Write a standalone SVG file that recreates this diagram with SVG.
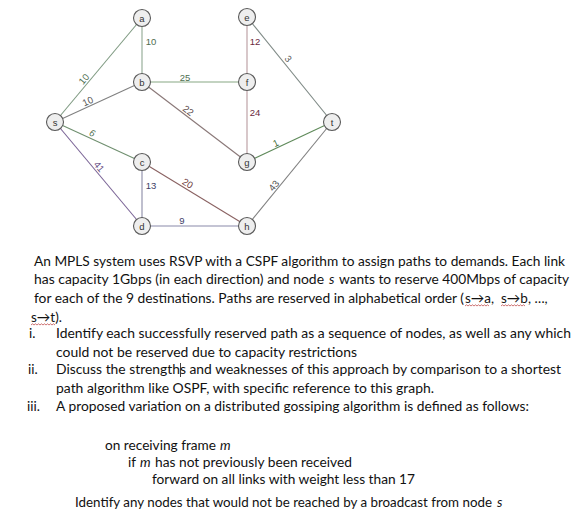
<svg xmlns="http://www.w3.org/2000/svg" width="582" height="521" viewBox="0 0 582 521">
<style>
.nd circle{fill:#eeeeee;stroke:#5a5a5a;stroke-width:1.1}
.nd text{font-family:"Liberation Sans",Arial,sans-serif;font-size:9.5px;fill:#333;text-anchor:middle}
.e{stroke-width:1.1;fill:none}
.lb{font-family:"Liberation Sans",Arial,sans-serif;font-size:9.5px;text-anchor:middle}
.tx{font-family:Lato,"Open Sans",sans-serif;font-size:13.5px;fill:#111}
.it{font-style:italic}
.wv{fill:none;stroke:#c05050;stroke-width:0.8}
</style>
<rect width="582" height="521" fill="#ffffff"/>
<g id="connectors">
<line class="e" x1="55" y1="122" x2="142" y2="18" stroke="#7f9a82"/>
<line class="e" x1="142" y1="18" x2="142" y2="82" stroke="#8fa892"/>
<line class="e" x1="55" y1="122" x2="142" y2="82" stroke="#808080"/>
<line class="e" x1="142" y1="82" x2="247" y2="82" stroke="#88a884"/>
<line class="e" x1="142" y1="82" x2="247" y2="162" stroke="#8a7878"/>
<line class="e" x1="247" y1="17" x2="247" y2="82" stroke="#b89a9e" stroke-width="1.5"/>
<line class="e" x1="247" y1="82" x2="247" y2="162" stroke="#b89a9e" stroke-width="1.5"/>
<line class="e" x1="247" y1="17" x2="332" y2="122" stroke="#7f8a86"/>
<line class="e" x1="247" y1="162" x2="332" y2="122" stroke="#5f8a5a"/>
<line class="e" x1="247" y1="226" x2="332" y2="122" stroke="#808080"/>
<line class="e" x1="55" y1="122" x2="142" y2="162" stroke="#6f8f6f"/>
<line class="e" x1="55" y1="122" x2="142" y2="226" stroke="#7a6496"/>
<line class="e" x1="142" y1="162" x2="142" y2="226" stroke="#8a8aa6"/>
<line class="e" x1="142" y1="162" x2="247" y2="226" stroke="#8a6262"/>
<line class="e" x1="142" y1="226" x2="247" y2="226" stroke="#8a8aaa"/>
<text class="lb" fill="#4e6e50" transform="translate(88,82.5) rotate(-50)" y="-2">10</text>
<text class="lb" fill="#555555" transform="translate(90,106) rotate(-24.7)" y="-2">10</text>
<text class="lb" fill="#4e6e4e" font-style="italic" transform="translate(90,138) rotate(24.7)" y="-2">6</text>
<text class="lb" fill="#5e4680" transform="translate(95,170) rotate(50)" y="-2">41</text>
<text class="lb" fill="#5a4848" transform="translate(185,114.8) rotate(37.3)" y="-2">22</text>
<text class="lb" fill="#6a3636" transform="translate(185,188) rotate(31.4)" y="-2">20</text>
<text class="lb" fill="#555555" transform="translate(284,62) rotate(51)" y="-2">3</text>
<text class="lb" fill="#555555" transform="translate(278,189) rotate(-50.7)" y="-2">43</text>
<text class="lb" fill="#3f6e38" transform="translate(278,148) rotate(-25.2)" y="-2">1</text>
<text class="lb" fill="#4e6e50" x="185" y="81">25</text>
<text class="lb" fill="#4e6e50" x="151" y="45">10</text>
<text class="lb" fill="#6a2a3e" x="255" y="45">12</text>
<text class="lb" fill="#6a2a3e" x="255" y="116">24</text>
<text class="lb" fill="#3e3e66" x="151" y="189">13</text>
<text class="lb" fill="#3e3e66" x="182" y="224">9</text>
</g>
<g id="node-s" class="nd"><circle cx="55" cy="122" r="8.5"/><text x="55" y="125.5">s</text></g>
<g id="node-a" class="nd"><circle cx="142" cy="18" r="8.5"/><text x="142" y="21.5">a</text></g>
<g id="node-b" class="nd"><circle cx="142" cy="82" r="8.5"/><text x="142" y="85.5">b</text></g>
<g id="node-c" class="nd"><circle cx="142" cy="162" r="8.5"/><text x="142" y="165.5">c</text></g>
<g id="node-d" class="nd"><circle cx="142" cy="226" r="8.5"/><text x="142" y="229.5">d</text></g>
<g id="node-e" class="nd"><circle cx="247" cy="17" r="8.5"/><text x="247" y="20.5">e</text></g>
<g id="node-f" class="nd"><circle cx="247" cy="82" r="8.5"/><text x="247" y="85.5">f</text></g>
<g id="node-g" class="nd"><circle cx="247" cy="162" r="8.5"/><text x="247" y="165.5">g</text></g>
<g id="node-h" class="nd"><circle cx="247" cy="226" r="8.5"/><text x="247" y="229.5">h</text></g>
<g id="node-t" class="nd"><circle cx="332" cy="122" r="8.5"/><text x="332" y="125.5">t</text></g>
<g id="question">
<text class="tx" x="34" y="266" textLength="531" lengthAdjust="spacingAndGlyphs">An MPLS system uses RSVP with a CSPF algorithm to assign paths to demands. Each link</text>
<text class="tx" x="34" y="284.3" textLength="290" lengthAdjust="spacingAndGlyphs">has capacity 1Gbps (in each direction) and node</text>
<text class="tx it" x="329" y="284.3">s</text>
<text class="tx" x="339" y="284.3" textLength="230" lengthAdjust="spacingAndGlyphs">wants to reserve 400Mbps of capacity</text>
<text class="tx" x="34" y="302.7" textLength="430" lengthAdjust="spacingAndGlyphs">for each of the 9 destinations. Paths are reserved in alphabetical order (</text>
<text class="tx" x="465" y="302.7">s→a,</text>
<text class="tx" x="501" y="302.7">s→b, …,</text>
<text class="tx" x="31" y="321.7">s→t).</text>
<path class="wv" d="M465,306 l1.5,-1.2 l1.5,1.2 l1.5,-1.2 l1.5,1.2 l1.5,-1.2 l1.5,1.2 l1.5,-1.2 l1.5,1.2 l1.5,-1.2 l1.5,1.2 l1.5,-1.2 l1.5,1.2 l1.5,-1.2 l1.5,1.2 l1.5,-1.2 l1.5,1.2"/>
<path class="wv" d="M501,306 l1.5,-1.2 l1.5,1.2 l1.5,-1.2 l1.5,1.2 l1.5,-1.2 l1.5,1.2 l1.5,-1.2 l1.5,1.2 l1.5,-1.2 l1.5,1.2 l1.5,-1.2 l1.5,1.2 l1.5,-1.2 l1.5,1.2 l1.5,-1.2 l1.5,1.2"/>
<path class="wv" d="M31,325 l1.5,-1.2 l1.5,1.2 l1.5,-1.2 l1.5,1.2 l1.5,-1.2 l1.5,1.2 l1.5,-1.2 l1.5,1.2 l1.5,-1.2 l1.5,1.2 l1.5,-1.2 l1.5,1.2 l1.5,-1.2 l1.5,1.2 l1.5,-1.2 l1.5,1.2"/>
<text class="tx" x="29" y="338.3">i.</text>
<text class="tx" x="56" y="338.3" textLength="515" lengthAdjust="spacingAndGlyphs">Identify each successfully reserved path as a sequence of nodes, as well as any which</text>
<text class="tx" x="56" y="356.7" textLength="301" lengthAdjust="spacingAndGlyphs">could not be reserved due to capacity restrictions</text>
<text class="tx" x="28" y="374">ii.</text>
<text class="tx" x="56" y="374" textLength="505" lengthAdjust="spacingAndGlyphs">Discuss the strengths and weaknesses of this approach by comparison to a shortest</text>
<line x1="180.5" y1="363" x2="180.5" y2="377" stroke="#111" stroke-width="0.8"/>
<text class="tx" x="56" y="392.7" textLength="378" lengthAdjust="spacingAndGlyphs">path algorithm like OSPF, with specific reference to this graph.</text>
<text class="tx" x="27" y="410.7">iii.</text>
<text class="tx" x="56" y="410.7" textLength="473" lengthAdjust="spacingAndGlyphs">A proposed variation on a distributed gossiping algorithm is defined as follows:</text>
<text class="tx" x="105" y="450" textLength="111" lengthAdjust="spacingAndGlyphs">on receiving frame</text>
<text class="tx it" x="220" y="450">m</text>
<text class="tx" x="128" y="466.7">if</text>
<text class="tx it" x="140" y="466.7">m</text>
<text class="tx" x="155" y="466.7" textLength="197" lengthAdjust="spacingAndGlyphs">has not previously been received</text>
<text class="tx" x="152" y="484.3" textLength="263" lengthAdjust="spacingAndGlyphs">forward on all links with weight less than 17</text>
<text class="tx" x="75" y="507.3" textLength="417" lengthAdjust="spacingAndGlyphs">Identify any nodes that would not be reached by a broadcast from node</text>
<text class="tx it" x="497" y="507.3">s</text>
</g>
</svg>
